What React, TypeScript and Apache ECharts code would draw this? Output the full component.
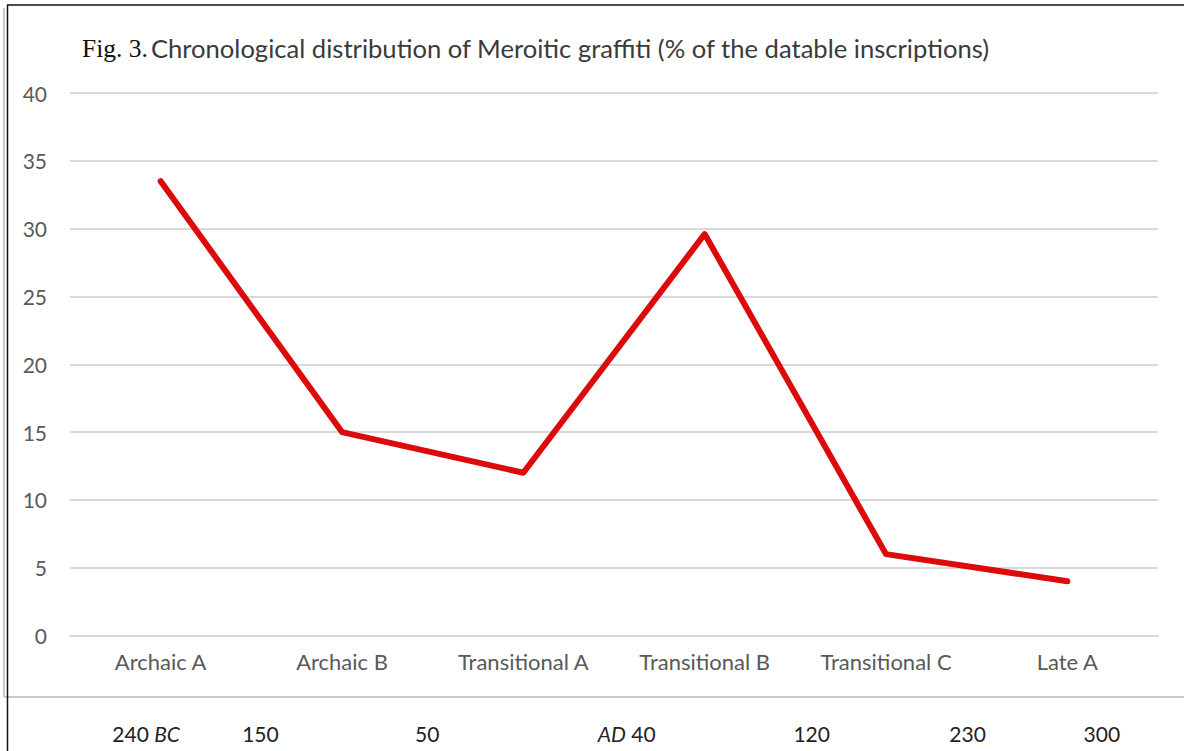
import React, { useEffect, useRef } from "react";
import * as echarts from "echarts";

// ---- data ----
const categories = ["Archaic A", "Archaic B", "Transitional A", "Transitional B", "Transitional C", "Late A"];
const shares = [33.5, 15, 12, 29.6, 6, 4];
const yTicks = { min: 0, max: 40, interval: 5 };
const dateLabels = ["240 BC", "150", "50", "AD 40", "120", "230", "300"];
const titleLead = "Fig. 3.";
const titleText = "Chronological distribution of Meroitic graffiti (% of the datable inscriptions)";

// ---- layout (positions of the date row, in category units along the x axis) ----
const dateLabelAt = [0.42, 1.05, 1.97, 3.07, 4.09, 4.95, 5.69];

const FONT = "Lato, 'Noto Sans', sans-serif";
const GRID = "#d9d9d9";
const TXT = "#595959";

function fmtDate(s: string): string {
  if (s.endsWith(" BC")) return `{n|${s.slice(0, -3)} }{i|BC}`;
  if (s.startsWith("AD ")) return `{i|AD}{n| ${s.slice(3)}}`;
  return `{n|${s}}`;
}

export default function App() {
  const ref = useRef<HTMLDivElement>(null);
  useEffect(() => {
    if (!ref.current) return;
    const chart = echarts.init(ref.current, undefined, { renderer: "svg" });
    const W = 1184, H = 751;
    chart.setOption({
      animation: false,
      backgroundColor: "#ffffff",
      title: {
        text: `{f|${titleLead}}{t|${titleText}}`,
        left: 77,
        top: 30,
        textStyle: {
          fontWeight: "normal",
          rich: {
            f: { fontFamily: "'Liberation Serif', 'Times New Roman', serif", fontSize: 25.5, fontWeight: "normal", color: "#111", padding: [0, 3, 0, 0] },
            t: { fontFamily: FONT, fontSize: 25.6, fontWeight: "normal", color: "#3a3a3a" },
          },
        },
      },
      grid: { left: 70, right: 26, top: 93, bottom: 115.5, containLabel: false, outerBoundsMode: "none" },
      xAxis: [
        {
          type: "category",
          data: categories,
          boundaryGap: true,
          axisLine: { show: true, lineStyle: { color: GRID, width: 2 } },
          axisTick: { show: false },
          axisLabel: { color: TXT, fontFamily: FONT, fontSize: 22, margin: 15, interval: 0 },
        },
        {
          type: "value",
          min: 0,
          max: categories.length,
          position: "bottom",
          axisLine: { show: false },
          axisTick: { show: false },
          splitLine: { show: false },
          axisLabel: {
            customValues: dateLabelAt,
            margin: 87,
            formatter: (v: number) => {
              const i = dateLabelAt.findIndex((p) => Math.abs(p - v) < 1e-6);
              return i >= 0 ? fmtDate(dateLabels[i]) : "";
            },
            rich: {
              n: { fontFamily: FONT, fontSize: 21, color: "#222" },
              i: { fontFamily: FONT, fontSize: 21, color: "#222", fontStyle: "italic" },
            },
          },
        },
      ],
      yAxis: {
        type: "value",
        min: yTicks.min,
        max: yTicks.max,
        interval: yTicks.interval,
        axisLine: { show: false },
        axisTick: { show: false },
        splitLine: { show: true, lineStyle: { color: GRID, width: 2 } },
        axisLabel: { color: TXT, fontFamily: FONT, fontSize: 21, margin: 23 },
      },
      series: [
        {
          type: "line",
          xAxisIndex: 0,
          data: shares,
          showSymbol: false,
          symbol: "none",
          lineStyle: { color: "#dc0a0a", width: 6, cap: "round", join: "round" },
        },
      ],
      graphic: [
        { type: "line", shape: { x1: 4, y1: 8, x2: 4, y2: 697 }, style: { stroke: "#c8c8c8", lineWidth: 2 } },
        { type: "line", shape: { x1: 4, y1: 697, x2: W, y2: 697 }, style: { stroke: "#c8c8c8", lineWidth: 2 } },
        { type: "line", shape: { x1: 7, y1: 5, x2: W, y2: 5 }, style: { stroke: "#111", lineWidth: 1.5 } },
        { type: "line", shape: { x1: 7.5, y1: 5, x2: 7.5, y2: H }, style: { stroke: "#111", lineWidth: 1.5 } },
      ],
    });
    return () => chart.dispose();
  }, []);
  return (
    <div
      ref={ref}
      style={{ position: "fixed", left: 0, top: 0, width: 1184, height: 751, background: "#fff" }}
    />
  );
}
